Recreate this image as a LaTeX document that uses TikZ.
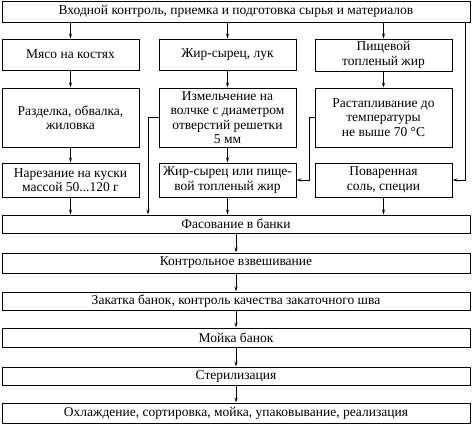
\documentclass[tikz,border=0pt]{standalone}
\usepackage{fontspec}
\setmainfont{Liberation Serif}
\usetikzlibrary{arrows.meta}

\tikzset{
  stage/.style={draw, line width=1pt, align=center, inner sep=1pt,
    font=\fontsize{13.5}{14.5}\selectfont},
  colbox/.style={stage, minimum width=137pt},
  rowbox/.style={stage, minimum width=468pt},
  arr/.style={line width=0.8pt, -{Stealth[length=5pt,width=3pt]}}
}

\begin{document}
\begin{tikzpicture}[x=1pt, y=-1pt]
      \useasboundingbox (0,0) rectangle (474,424);

      \node[rowbox, minimum height=21pt] (input) at (236,11.5) {Входной контроль, приемка и подготовка сырья и материалов};

      \node[colbox, minimum height=31pt] (meat) at (70.5,54.5)  {Мясо на костях};
      \node[colbox, minimum height=31pt] (fat)  at (227.5,54.5) {Жир-сырец, лук};
      \node[colbox, minimum height=32pt] (lard) at (383.5,55)   {Пищевой\\топленый жир};

      \node[colbox, minimum height=59pt] (cut)   at (70.5,117.5)  {Разделка, обвалка,\\жиловка};
      \node[colbox, minimum height=59pt] (mince) at (227.5,117.5) {Измельчение на\\волчке с диаметром\\отверстий решетки\\5 мм};
      \node[colbox, minimum height=59pt] (melt)  at (383.5,117.5) {Растапливание до\\температуры\\не выше 70 °C};

      \node[colbox, minimum height=34pt] (slice)  at (70.5,180)  {Нарезание на куски\\массой 50...120 г};
      \node[colbox, minimum height=34pt] (fatmix) at (227.5,180) {Жир-сырец или пище-\\вой топленый жир};
      \node[colbox, minimum height=34pt] (salt)   at (383.5,180) {Поваренная\\соль, специи};

      \node[rowbox, minimum height=18pt] (pack)   at (236,224)   {Фасование в банки};
      \node[rowbox, minimum height=20pt] (weigh)  at (236,263)   {Контрольное взвешивание};
      \node[rowbox, minimum height=18pt] (seal)   at (236,301)   {Закатка банок, контроль качества закаточного шва};
      \node[rowbox, minimum height=19pt] (wash)   at (236,337.5) {Мойка банок};
      \node[rowbox, minimum height=18pt] (steril) at (236,376)   {Стерилизация};
      \node[rowbox, minimum height=20pt] (cool)   at (236,413)   {Охлаждение, сортировка, мойка, упаковывание, реализация};

      \coordinate (lbend) at (148,117.5);
      \coordinate (mbend) at (309,117.5);
      \coordinate (rbend) at (465,22);

      \draw[arr] (meat.north |- input.south) -- (meat.north);
      \draw[arr] (fat.north  |- input.south) -- (fat.north);
      \draw[arr] (lard.north |- input.south) -- (lard.north);

      \draw[arr] (meat) -- (cut);
      \draw[arr] (cut) -- (slice);
      \draw[arr] (fat) -- (mince);
      \draw[arr] (mince) -- (fatmix);
      \draw[arr] (lard) -- (melt);

      \draw[arr] (slice.south)  -- (slice.south |- pack.north);
      \draw[arr] (fatmix.south) -- (fatmix.south |- pack.north);
      \draw[arr] (salt.south)   -- (salt.south |- pack.north);

      \draw[arr] (mince.west) -- (lbend) -- (lbend |- pack.north);
      \draw[arr] (melt.west) -- (mbend) |- (fatmix.east);
      \draw[arr] (rbend |- input.south) |- (salt.east);

      \draw[arr] (pack) -- (weigh);
      \draw[arr] (weigh) -- (seal);
      \draw[arr] (seal) -- (wash);
      \draw[arr] (wash) -- (steril);
      \draw[arr] (steril) -- (cool);
\end{tikzpicture}
\end{document}
